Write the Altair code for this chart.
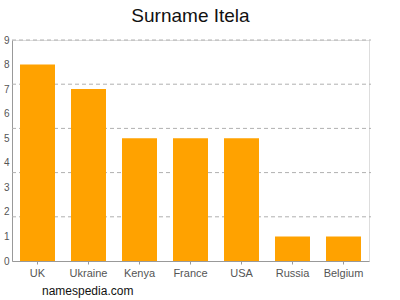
import altair as alt
import pandas as pd

countries = ["UK", "Ukraine", "Kenya", "France", "USA", "Russia", "Belgium"]
counts = [8, 7, 5, 5, 5, 1, 1]
y_ticks = [0, 1, 2, 3, 4, 5, 6, 7, 8, 9]
grid_values = [1.8, 3.6, 5.4, 7.2, 9.0]
title_text = "Surname Itela"
footer_text = "namespedia.com"

W, H = 357, 221

df = pd.DataFrame({"country": countries, "count": counts})
grid_df = pd.DataFrame({"g": grid_values})

yscale = alt.Scale(domain=[0, 9], nice=False)
yaxis = alt.Axis(values=y_ticks, labelFontSize=10, labelColor="#555555",
                 labelFont="Liberation Sans", domainColor="#999999",
                 ticks=False, labelPadding=3, grid=False)

grid = alt.Chart(grid_df).mark_rule(color="#b0b0b0", strokeDash=[4, 3], strokeWidth=1).encode(
    y=alt.Y("g:Q", scale=yscale, title=None, axis=yaxis),
    x=alt.value(0),
    x2=alt.value(W + 2),
)

bars = alt.Chart(df).mark_bar(color="#ffa200").encode(
    x=alt.X("country:N", sort=countries, title=None,
            scale=alt.Scale(paddingInner=0.314, paddingOuter=0.157),
            axis=alt.Axis(labelAngle=0, labelFontSize=11, labelColor="#555555",
                          labelFont="Liberation Sans", domainColor="#999999",
                          tickColor="#999999", tickSize=3, labelPadding=3, grid=False)),
    y=alt.Y("count:Q", scale=yscale, title=None, axis=yaxis),
)

title = alt.Chart(pd.DataFrame({"t": [title_text]})).mark_text(
    fontSize=19, font="Liberation Sans", color="#111111", baseline="alphabetic", align="center"
).encode(text="t:N", x=alt.value(W / 2), y=alt.value(-18))

footer = alt.Chart(pd.DataFrame({"t": [footer_text]})).mark_text(
    fontSize=12, font="Liberation Sans", color="#111111", baseline="middle", align="left"
).encode(text="t:N", x=alt.value(30), y=alt.value(251))

chart = alt.layer(grid, bars, title, footer).resolve_axis(y="shared").properties(
    width=W, height=H,
    autosize=alt.AutoSizeParams(type="none"),
    padding={"left": 12, "top": 40, "right": 31, "bottom": 39},
).configure_view(stroke=None).configure(background="white")

chart.save("out.html", embed_options={"renderer": "svg", "actions": False})
